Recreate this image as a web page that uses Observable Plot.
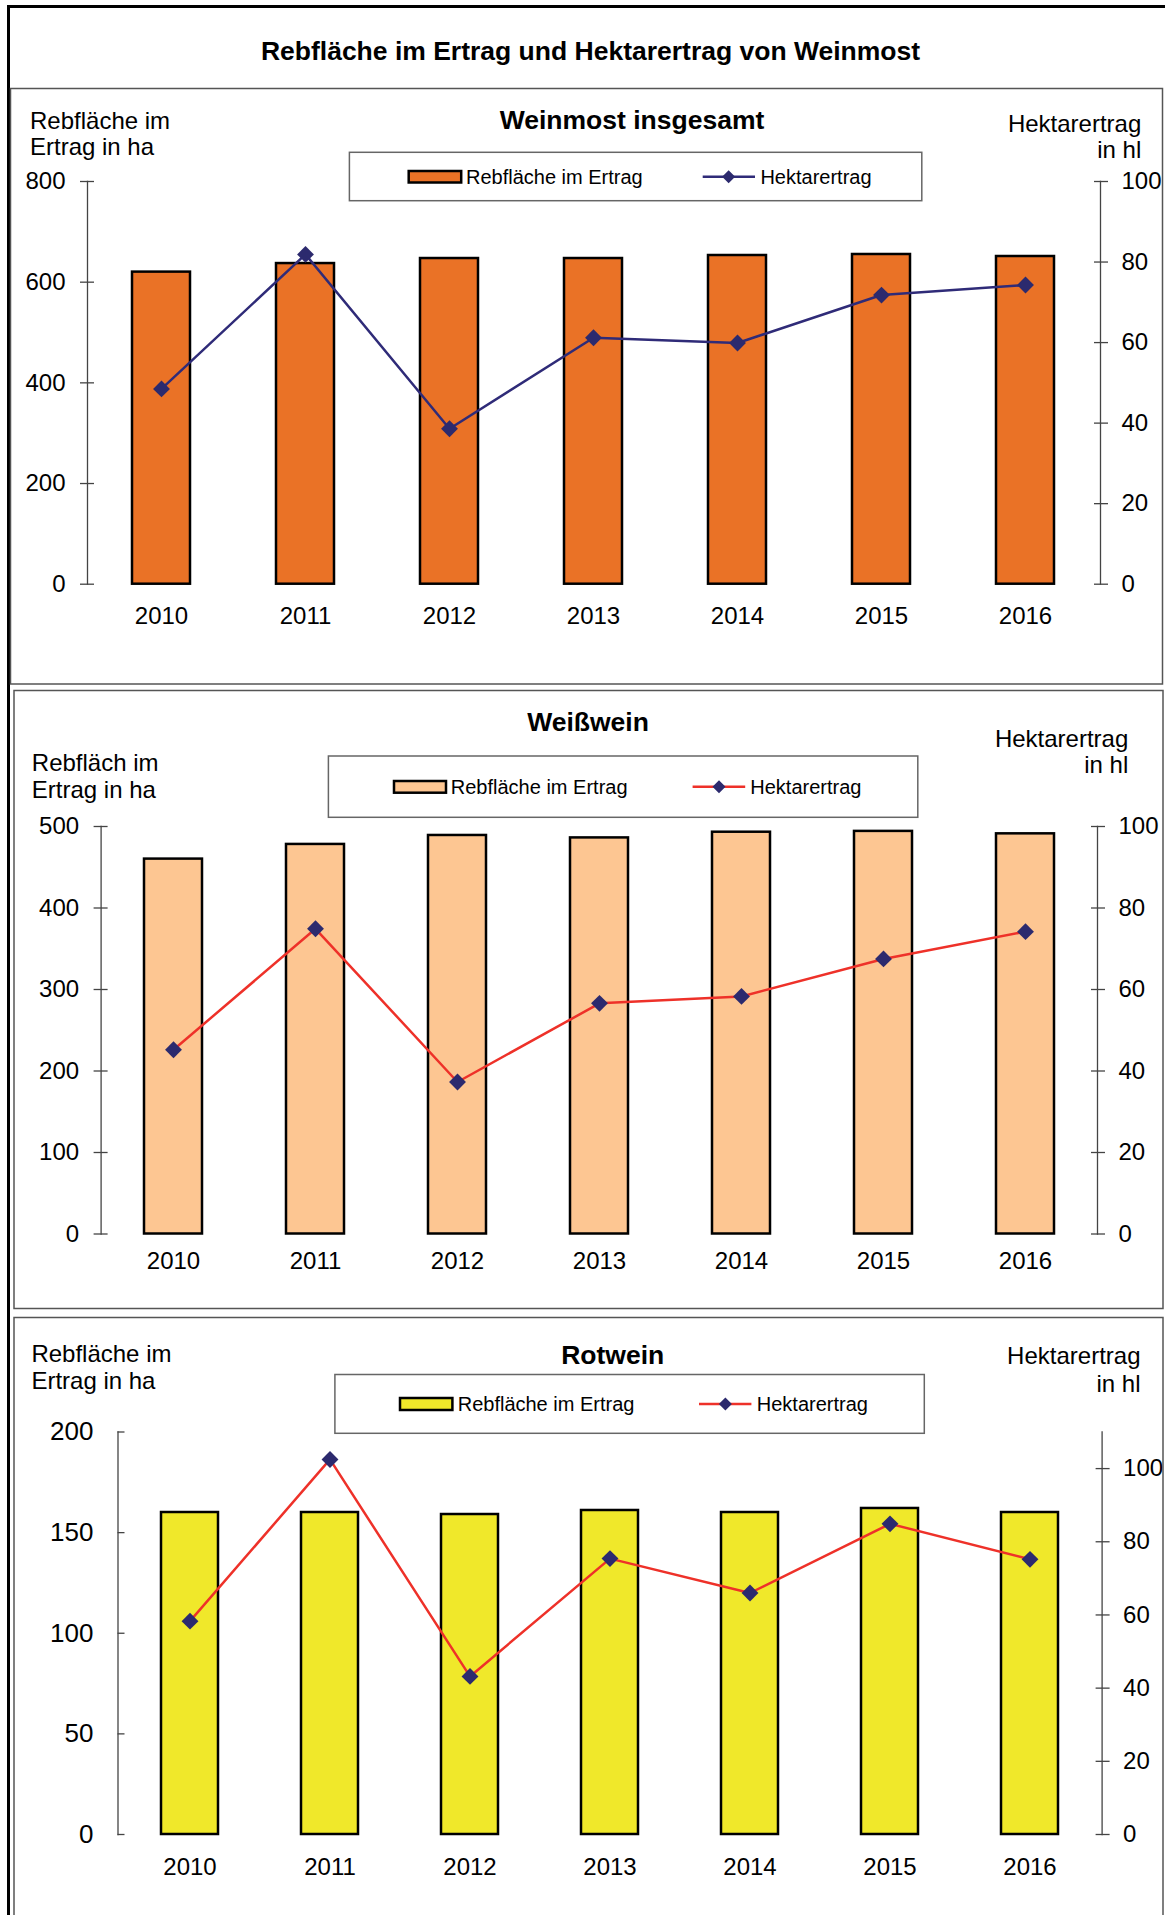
<!DOCTYPE html>
<html><head><meta charset="utf-8">
<script src="https://cdn.jsdelivr.net/npm/d3@7"></script>
<script src="https://cdn.jsdelivr.net/npm/@observablehq/plot@0.6"></script>
<style>
body{margin:0;background:#fff;}
#page{position:relative;width:1165px;height:1915px;overflow:hidden;background:#fff;}
</style></head><body><div id="page"></div>
<script>
// ---- data ----
const years = ["2010","2011","2012","2013","2014","2015","2016"];
const weinmostArea  = [620, 637, 647, 647, 653, 655, 651];
const weinmostYield = [48.5, 81.9, 38.6, 61.2, 59.9, 71.8, 74.3];
const weissArea  = [460, 478, 489, 486, 493, 494, 491];
const weissYield = [45.2, 74.9, 37.3, 56.6, 58.3, 67.5, 74.2];
const rotArea  = [160, 160, 159, 161, 160, 162, 160];
const rotYield = [58.3, 102.5, 43.2, 75.4, 66.0, 84.9, 75.2];
const weinmostAreaTicks = [0, 200, 400, 600, 800];
const weissAreaTicks = [0, 100, 200, 300, 400, 500];
const rotAreaTicks = [0, 50, 100, 150, 200];
const yieldTicks = [0, 20, 40, 60, 80, 100];
const mainTitle = "Rebfläche im Ertrag und Hektarertrag von Weinmost";
const legendBarText = "Rebfläche im Ertrag";
const legendLineText = "Hektarertrag";

const font = "'Liberation Sans', Arial, Helvetica, sans-serif";
const markerColor = "#2C2A6E";

const panels = [
  {title:"Weinmost insgesamt", leftLabel:["Rebfläche im","Ertrag in ha"], rightLabel:["Hektarertrag","in hl"],
   area:weinmostArea, yld:weinmostYield, leftMax:800, rightMax:100, leftTicks:weinmostAreaTicks, rightTicks:yieldTicks,
   barColor:"#EA7226", lineColor:"#2F2B78",
   top:88, h:596, ml:87, mr:65, mt:93, mb:100.3, xPad:23, leftPad:22, leftFont:24, inward:false,
   t:{x:632,y:129.3}, L:{x:30,y1:129.3,y2:155}, R:{x:1141.3,y1:132.3,y2:158.3},
   lg:{x:349.4,y:152.3,w:572.4,h:48.4,sw:[408.7,171,52.5,11.5],t1:466,cy:176.7,l:[702.7,755],m:728.6,t2:760.4},
   box:[10.5,88.5,1152,595.5]},
  {title:"Weißwein", leftLabel:["Rebfläch im","Ertrag in ha"], rightLabel:["Hektarertrag","in hl"],
   area:weissArea, yld:weissYield, leftMax:500, rightMax:100, leftTicks:weissAreaTicks, rightTicks:yieldTicks,
   barColor:"#FDC692", lineColor:"#EE3129",
   top:690, h:619, ml:100.6, mr:68, mt:136, mb:75.5, xPad:18, leftPad:22, leftFont:24, inward:false,
   t:{x:588,y:730.7}, L:{x:31.8,y1:770.7,y2:798.3}, R:{x:1128.3,y1:746.7,y2:773.3},
   lg:{x:328.4,y:756,w:589.4,h:61.3,sw:[394,781,52,11.7],t1:450.8,cy:786.7,l:[692.6,745.2],m:719,t2:750.3},
   box:[14,690.5,1149,618]},
  {title:"Rotwein", leftLabel:["Rebfläche im","Ertrag in ha"], rightLabel:["Hektarertrag","in hl"],
   area:rotArea, yld:rotYield, leftMax:200, rightMax:110, leftTicks:rotAreaTicks, rightTicks:yieldTicks,
   barColor:"#F0E82A", lineColor:"#EE3129",
   top:1317, h:598, ml:117.5, mr:63.4, mt:114.5, mb:81, xPad:23, leftPad:24.5, leftFont:26, inward:true,
   t:{x:612.7,y:1363.5}, L:{x:31.4,y1:1361.6,y2:1389.4}, R:{x:1140.5,y1:1364,y2:1392},
   lg:{x:334.9,y:1374.5,w:589.4,h:58.8,sw:[400,1398,52.4,12],t1:457.7,cy:1404,l:[699,751.4],m:725.4,t2:756.8},
   box:[14,1317.5,1149,700]}
];

const page = document.getElementById("page");

panels.forEach(p => {
  const data = years.map((year, i) => ({year, area: p.area[i], yld: p.yld[i]}));
  const k = p.leftMax / p.rightMax;
  const rt = p.rightTicks.map(v => v * k);
  const svg = Plot.plot({
    width: 1165, height: p.h,
    marginLeft: p.ml, marginRight: p.mr, marginTop: p.mt, marginBottom: p.mb,
    style: {fontFamily: font, background: "none", color: "#000", overflow: "visible"},
    x: {domain: years, type: "band", paddingInner: 0.595, paddingOuter: 0.2975, axis: null, label: null},
    y: {domain: [0, p.leftMax], axis: null, label: null},
    marks: [
      Plot.barY(data, {x: "year", y: "area", fill: p.barColor, stroke: "#000", strokeWidth: 2.5}),
      Plot.line(data, {x: "year", y: d => d.yld * k, stroke: p.lineColor, strokeWidth: 2.5}),
      Plot.dot(data, {x: "year", y: d => d.yld * k, symbol: "diamond2", r: 7.6, fill: markerColor, stroke: "none"}),
      Plot.frame({anchor: "left", stroke: "#444", strokeWidth: 1.3}),
      Plot.frame({anchor: "right", stroke: "#444", strokeWidth: 1.3}),
      Plot.axisY({ticks: p.leftTicks, anchor: "left", tickSize: p.inward ? 7 : 14, dx: 7, fill: "none", stroke: "#444", strokeWidth: 1.3, label: null}),
      Plot.axisY({ticks: p.leftTicks, anchor: "left", tickSize: 0, tickPadding: p.leftPad, fontSize: p.leftFont, fill: "#000", stroke: "none", label: null}),
      Plot.axisY({ticks: rt, anchor: "right", tickSize: 14, dx: -7, fill: "none", stroke: "#444", strokeWidth: 1.3, label: null}),
      Plot.axisY({ticks: rt, anchor: "right", tickSize: 0, tickPadding: 21, fontSize: 24, fill: "#000", stroke: "none", label: null,
                  tickFormat: d => String(Math.round(d / k))}),
      Plot.axisX({anchor: "bottom", tickSize: 0, tickPadding: p.xPad, fontSize: 24, fill: "#000", stroke: "none", label: null})
    ]
  });
  svg.style.position = "absolute";
  svg.style.left = "0px";
  svg.style.top = p.top + "px";
  page.appendChild(svg);
});

// ---- overlay: frames, titles, labels, legends ----
const ov = d3.create("svg").attr("width", 1165).attr("height", 1915)
  .style("position", "absolute").style("left", "0px").style("top", "0px")
  .style("font-family", font);

ov.append("line").attr("x1", 7).attr("x2", 1165).attr("y1", 6.5).attr("y2", 6.5).attr("stroke", "#000").attr("stroke-width", 3);
ov.append("line").attr("x1", 8.5).attr("x2", 8.5).attr("y1", 5).attr("y2", 1915).attr("stroke", "#000").attr("stroke-width", 3);

ov.append("text").attr("x", 590.5).attr("y", 60).attr("text-anchor", "middle")
  .attr("font-size", 26.5).attr("font-weight", "bold").text(mainTitle);

panels.forEach(p => {
  ov.append("rect").attr("x", p.box[0]).attr("y", p.box[1]).attr("width", p.box[2]).attr("height", p.box[3])
    .attr("fill", "none").attr("stroke", "#555").attr("stroke-width", 1.5);
  ov.append("text").attr("x", p.t.x).attr("y", p.t.y).attr("text-anchor", "middle")
    .attr("font-size", 26.5).attr("font-weight", "bold").text(p.title);
  ov.append("text").attr("x", p.L.x).attr("y", p.L.y1).attr("font-size", 24).text(p.leftLabel[0]);
  ov.append("text").attr("x", p.L.x).attr("y", p.L.y2).attr("font-size", 24).text(p.leftLabel[1]);
  ov.append("text").attr("x", p.R.x).attr("y", p.R.y1).attr("font-size", 24).attr("text-anchor", "end").text(p.rightLabel[0]);
  ov.append("text").attr("x", p.R.x).attr("y", p.R.y2).attr("font-size", 24).attr("text-anchor", "end").text(p.rightLabel[1]);
  const g = p.lg;
  ov.append("rect").attr("x", g.x).attr("y", g.y).attr("width", g.w).attr("height", g.h)
    .attr("fill", "#fff").attr("stroke", "#666").attr("stroke-width", 1.5);
  ov.append("rect").attr("x", g.sw[0]).attr("y", g.sw[1]).attr("width", g.sw[2]).attr("height", g.sw[3])
    .attr("fill", p.barColor).attr("stroke", "#000").attr("stroke-width", 2.5);
  ov.append("text").attr("x", g.t1).attr("y", g.cy + 7.2).attr("font-size", 20).text(legendBarText);
  ov.append("line").attr("x1", g.l[0]).attr("x2", g.l[1]).attr("y1", g.cy).attr("y2", g.cy)
    .attr("stroke", p.lineColor).attr("stroke-width", 2.5);
  ov.append("path").attr("d", `M${g.m},${g.cy-6.5}L${g.m+6.5},${g.cy}L${g.m},${g.cy+6.5}L${g.m-6.5},${g.cy}Z`).attr("fill", markerColor);
  ov.append("text").attr("x", g.t2).attr("y", g.cy + 7.2).attr("font-size", 20).text(legendLineText);
});

page.appendChild(ov.node());
</script>
</body></html>
